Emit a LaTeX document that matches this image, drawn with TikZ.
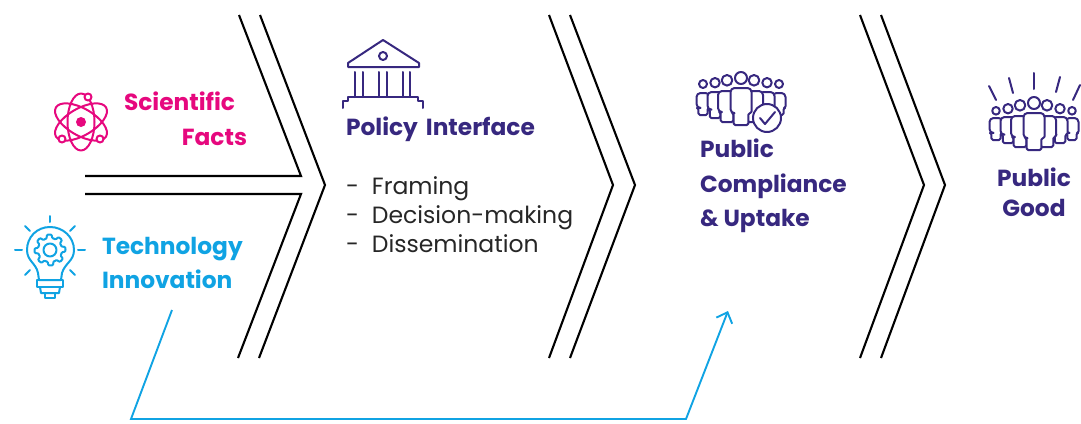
\documentclass[tikz,border=0pt]{standalone}
\usepackage{fontspec}
\setmainfont{Poppins}
\usetikzlibrary{arrows.meta}
\definecolor{pinkc}{HTML}{E6087E}
\definecolor{bluec}{HTML}{10A3E3}
\definecolor{indigoc}{HTML}{37287F}
\tikzset{
  chev/.style={draw=black,line width=2.1pt,line join=miter},
  lbl/.style={anchor=base west,inner sep=0pt,outer sep=0pt,font=\bfseries\fontsize{23.3}{26}\selectfont},
  lblc/.style={lbl,anchor=base},
  lblr/.style={lbl,anchor=base east},
  item/.style={anchor=base west,inner sep=0pt,outer sep=0pt,text=black!85,font=\fontsize{23.5}{26}\selectfont},
  icon/.style={line width=2pt,line cap=round,line join=round},
  flow/.style={draw=bluec,line width=1.9pt,line join=miter},
}
% x, top, bottom, half width, head y, head r
\newcommand{\psn}[6]{%
  \draw[icon,draw=indigoc,fill=white] (#1,#6+#5) circle[radius=#6pt];
  \draw[icon,draw=indigoc,fill=white]
    [rounded corners=1.5pt] (#1-0.7*#4,{#2+0.68*(#3-#2)}) -- (#1-0.7*#4,#3) -- (#1+0.7*#4,#3) -- (#1+0.7*#4,{#2+0.68*(#3-#2)}) -- (#1+#4,{#2+0.68*(#3-#2)})
    [rounded corners=4pt] -- (#1+#4,#2) -- (#1-#4,#2) -- (#1-#4,{#2+0.68*(#3-#2)})
    [rounded corners=1.5pt] -- cycle;
}
\begin{document}
\begin{tikzpicture}[x=1pt,y=-1pt]
\useasboundingbox (0,0) rectangle (1081,423);
% chevrons
\coordinate (a1) at (239,15); \coordinate (a2) at (301,176); \coordinate (a3) at (85,176);
\coordinate (b1) at (85,194); \coordinate (b2) at (301,194); \coordinate (b3) at (238,358);
\coordinate (c1) at (260,15); \coordinate (c2) at (325,185); \coordinate (c3) at (259,358);
\draw[chev] (a1) -- (a2) -- (a3);
\draw[chev] (b1) -- (b2) -- (b3);
\draw[chev] (c1) -- (c2) -- (c3);
\coordinate (d1) at (549,15); \coordinate (d2) at (613,185); \coordinate (d3) at (549,358);
\coordinate (e1) at (570,15); \coordinate (e2) at (635,185); \coordinate (e3) at (570,358);
\draw[chev] (d1) -- (d2) -- (d3);
\draw[chev] (e1) -- (e2) -- (e3);
\coordinate (f1) at (860,15); \coordinate (f2) at (924,185); \coordinate (f3) at (860,358);
\coordinate (g1) at (881,15); \coordinate (g2) at (945,185); \coordinate (g3) at (881,358);
\draw[chev] (f1) -- (f2) -- (f3);
\draw[chev] (g1) -- (g2) -- (g3);
% blue arrow
\coordinate (s0) at (172,310); \coordinate (s1) at (131,419); \coordinate (s2) at (686,419); \coordinate (s3) at (728,311);
\draw[flow,-{Straight Barb[length=9pt,width=17pt]}] (s0) -- (s1) -- (s2) -- (s3);
% texts
\node[lbl,text=pinkc] (t1) at (124,110) {Scientific};
\node[lblr,text=pinkc] (t2) at (247,145) {Facts};
\node[lbl,text=bluec] (t3) at (102,254) {Technology};
\node[lbl,text=bluec] (t4) at (102,288) {Innovation};
\node[lbl,text=indigoc] (t5) at (346,135) {Policy\hspace{3pt} Interface};
\node[item] (i1) at (346,194) {-\hspace{13pt}Framing};
\node[item] (i2) at (346,223) {-\hspace{13pt}Decision-making};
\node[item] (i3) at (346,252) {-\hspace{13pt}Dissemination};
\node[lbl,text=indigoc] (t6) at (700,157) {Public};
\node[lbl,text=indigoc] (t7) at (700,192) {Compliance};
\node[lbl,text=indigoc] (t8) at (700,226) {\&~Uptake};
\node[lblc,text=indigoc] (t9) at (1034,186) {Public};
\node[lblc,text=indigoc] (t10) at (1034,216) {Good};
% atom
\begin{scope}[shift={(81,122)},icon,draw=pinkc]
  \draw (0,0) ellipse[x radius=13.5pt,y radius=28.5pt];
  \draw[rotate=60] (0,0) ellipse[x radius=13.5pt,y radius=29pt];
  \draw[rotate=-60] (0,0) ellipse[x radius=13.5pt,y radius=29pt];
  \fill[pinkc] (0,0) circle[radius=5pt];
  \draw[fill=white] (7,-25) circle[radius=3.5pt];
  \draw[fill=white] (-19,17) circle[radius=3.5pt];
  \draw[fill=white] (19,17) circle[radius=3.5pt];
\end{scope}
% bulb
\begin{scope}[icon,draw=bluec]
  \draw (39,280) -- (38,273) .. controls (36,263) and (27,261) .. (27,250)
     .. controls (27,237) and (37,227) .. (50,227) .. controls (63,227) and (74,237) .. (74,250)
     .. controls (74,261) and (65,263) .. (62,273) -- (61,280) -- cycle;
  \draw (37,280) -- (37,287) -- (63,287) -- (63,280) -- cycle;
  \draw (40,287) -- (41,293) -- (59,293) -- (60,287);
  \draw (45,293) -- (45,298) -- (55,298) -- (55,293);
  \draw (50,216) -- (50,222);
  \draw (15,250) -- (22,250); \draw (78,250) -- (85,250);
  \draw (25,226) -- (30,231); \draw (75,226) -- (70,231);
  \draw (25,275) -- (30,270); \draw (75,275) -- (70,270);
  \begin{scope}[shift={(50,250)}]
    \draw[samples=65,domain=0:360,rounded corners=0.8pt] plot (\x:{mod(\x+11.25,45)<22.5 ? 15.5 : 12}) -- cycle;
    \draw (0,0) circle[radius=6.5pt];
  \end{scope}
\end{scope}
% building
\begin{scope}[icon,draw=indigoc]
  \draw (383,40) -- (419,63) -- (419,67) -- (348,67) -- (348,63) -- cycle;
  \draw (383,56) circle[radius=4pt];
  \foreach \cx in {355,363,379,387,403,410} { \draw (\cx,72) -- (\cx,97); }
  \draw (343,108) -- (343,101) -- (348,101) -- (348,97) -- (418,97) -- (418,101) -- (423,101) -- (423,108);
\end{scope}
% people 1
\psn{703}{93}{115}{6.5}{80}{4}
\psn{779}{93}{115}{6.5}{80}{4}
\psn{715}{92}{118}{7.5}{78}{4.7}
\psn{767}{92}{118}{7.5}{78}{4.7}
\psn{727}{91}{122}{9}{75}{5.3}
\psn{754}{91}{122}{9}{75}{5.3}
\psn{741}{88}{125}{10.5}{72}{6}
\draw[icon,draw=indigoc,fill=white] (767,118) circle[radius=14pt];
\draw[icon,draw=indigoc] (760,118) -- (765,124) -- (775,112);
% people 2
\psn{996}{118}{140}{6.5}{107}{3.8}
\psn{1072}{118}{140}{6.5}{107}{3.8}
\psn{1008}{117}{143}{7.5}{104}{4.7}
\psn{1060}{117}{143}{7.5}{104}{4.7}
\psn{1020}{116}{147}{9}{100}{5.3}
\psn{1047}{116}{147}{9}{100}{5.3}
\psn{1034}{113}{150}{10.5}{97}{6}
\begin{scope}[icon,draw=indigoc]
  \draw (989,86) -- (996,100);
  \draw (1009,78) -- (1013,93);
  \draw (1034,73) -- (1034,89);
  \draw (1060,77) -- (1056,92);
  \draw (1080,85) -- (1073,100);
\end{scope}
\end{tikzpicture}
\end{document}
